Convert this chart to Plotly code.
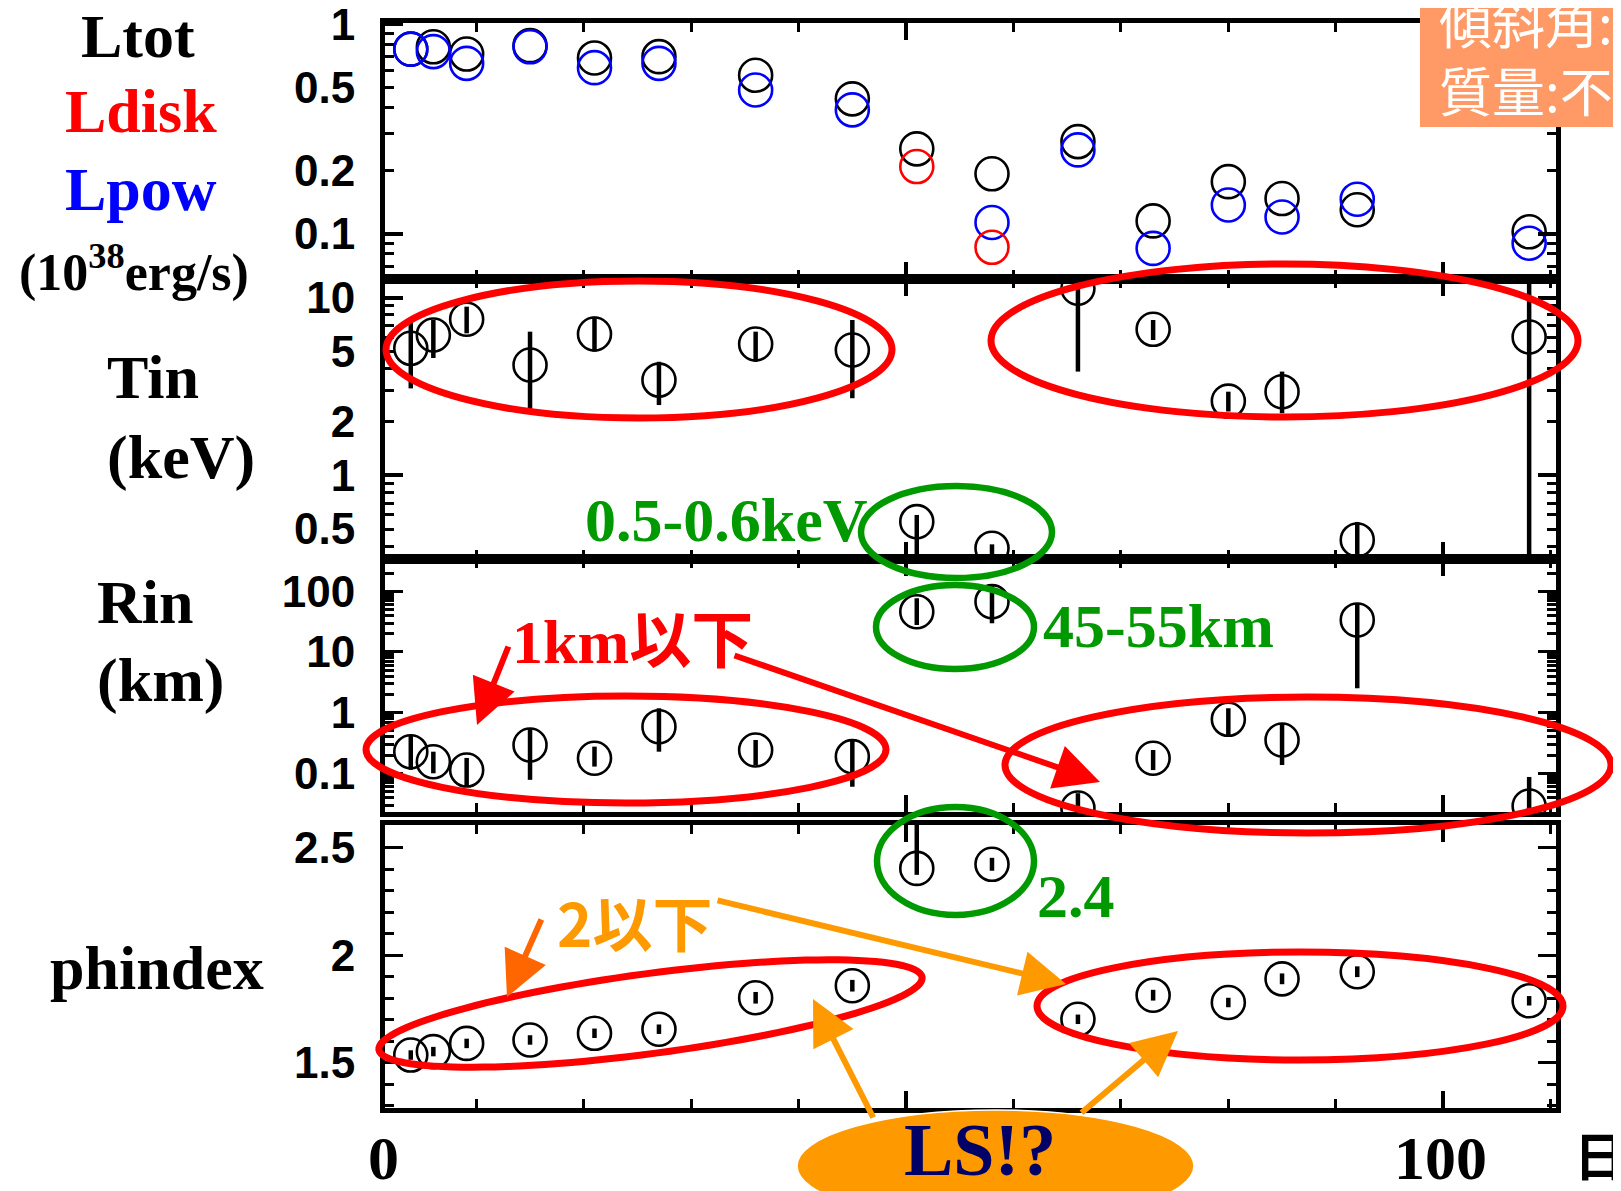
import math
import plotly.graph_objects as go

W, H = 1621, 1191
OFF = 8  # the page body adds an 8px margin; positions below are in screen pixels

# ---------------- data ----------------
days = [3.9, 6.0, 9.1, 15.0, 21.0, 27.0, 36.0, 45.0, 51.0, 58.0, 66.0, 73.0, 80.0, 85.0, 92.0, 108.0]

l_tot = [0.76, 0.78, 0.72, 0.79, 0.69, 0.70, 0.57, 0.44, 0.254, 0.193, 0.275, 0.115, 0.177, 0.147, 0.130, 0.102]
l_pow = [0.76, 0.74, 0.65, 0.78, 0.62, 0.65, 0.485, 0.39, None, 0.113, 0.251, 0.085, 0.137, 0.12, 0.146, 0.090]
l_disk = [None, None, None, None, None, None, None, None, 0.209, 0.086, None, None, None, None, None, None]

tin = [5.19, 6.17, 7.56, 4.18, 6.25, 3.44, 5.49, 5.08, 0.55, 0.39, 11.3, 6.64, 2.62, 2.96, 0.434, 6.01]
tin_hi = [7.33, 7.49, 8.9, 6.44, 7.82, 4.36, 6.44, 7.49, 0.60, 0.41, 20.0, 7.49, 2.96, 3.84, 0.548, 20.0]
tin_lo = [3.09, 4.58, 6.3, 2.34, 4.97, 2.49, 4.36, 2.72, 0.30, 0.33, 3.84, 5.78, 2.29, 2.24, 0.30, 0.30]

rin = [0.227, 0.155, 0.113, 0.293, 0.177, 0.586, 0.242, 0.188, 46.1, 67.5, 0.0268, 0.177, 0.776, 0.354, 33.7, 0.0289]
rin_hi = [0.428, 0.227, 0.179, 0.552, 0.275, 1.18, 0.354, 0.354, 76.7, 127.0, 0.047, 0.242, 1.18, 0.667, 63.4, 0.087]
rin_lo = [0.114, 0.100, 0.060, 0.078, 0.129, 0.227, 0.137, 0.060, 27.8, 29.7, 0.01, 0.113, 0.40, 0.137, 2.52, 0.01]

phindex = [1.536, 1.552, 1.590, 1.606, 1.637, 1.656, 1.802, 1.858, 2.403, 2.422, 1.702, 1.814, 1.780, 1.890, 1.923, 1.788]
ph_plus = [0.022, 0.022, 0.022, 0.022, 0.022, 0.022, 0.027, 0.027, 0.30, 0.03, 0.022, 0.025, 0.022, 0.025, 0.025, 0.022]
ph_minus = [0.022, 0.022, 0.022, 0.022, 0.022, 0.022, 0.027, 0.027, 0.03, 0.03, 0.022, 0.025, 0.022, 0.025, 0.025, 0.022]

y1_ticks = [0.1, 0.2, 0.5, 1]
y1_text = ["0.1", "0.2", "0.5", "1"]
y2_ticks = [0.5, 1, 2, 5, 10]
y2_text = ["0.5", "1", "2", "5", "10"]
y3_ticks = [0.1, 1, 10, 100]
y3_text = ["0.1", "1", "10", "100"]
y4_ticks = [1.5, 2, 2.5]
y4_text = ["1.5", "2", "2.5"]

# ---------------- helpers ----------------
def px(x):
    return (x - OFF) / W


def py(y):
    return 1 - (y - OFF) / H


def errs(v, hi, lo):
    plus = [h - a for a, h in zip(v, hi)]
    minus = [a - l for a, l in zip(v, lo)]
    return plus, minus


X_DOM = [px(385), px(1556)]
P1 = [py(279), py(23)]
P2 = [py(559), py(279)]
P3 = [py(812), py(559)]
P4 = [py(1108), py(825)]

TICKFONT = dict(family="Liberation Sans, Arial, sans-serif", size=44, color="black", weight="bold")

fig = go.Figure()

MK = dict(symbol="circle-open", size=33, line=dict(width=2.6))

# panel 1
fig.add_trace(go.Scatter(x=days, y=l_tot, mode="markers", marker=dict(MK, color="black"),
                         xaxis="x", yaxis="y", showlegend=False))
fig.add_trace(go.Scatter(x=days, y=l_pow, mode="markers", marker=dict(MK, color="#0000FF"),
                         xaxis="x", yaxis="y", showlegend=False))
fig.add_trace(go.Scatter(x=days, y=l_disk, mode="markers", marker=dict(MK, color="#FF0000"),
                         xaxis="x", yaxis="y", showlegend=False))

EB = dict(type="data", symmetric=False, width=0, thickness=4.5, color="black")

p, m = errs(tin, tin_hi, tin_lo)
fig.add_trace(go.Scatter(x=days, y=tin, mode="markers", marker=dict(MK, color="black"),
                         error_y=dict(EB, array=p, arrayminus=m),
                         xaxis="x2", yaxis="y2", showlegend=False))
p, m = errs(rin, rin_hi, rin_lo)
fig.add_trace(go.Scatter(x=days, y=rin, mode="markers", marker=dict(MK, color="black"),
                         error_y=dict(EB, array=p, arrayminus=m),
                         xaxis="x3", yaxis="y3", showlegend=False))
fig.add_trace(go.Scatter(x=days, y=phindex, mode="markers", marker=dict(MK, color="black"),
                         error_y=dict(EB, array=ph_plus, arrayminus=ph_minus),
                         xaxis="x4", yaxis="y4", showlegend=False))
# empty traces to host the overlay axes (long decade ticks)
for ya, xa in (("y5", "x"), ("y6", "x2")):
    fig.add_trace(go.Scatter(x=[None], y=[None], mode="markers", xaxis=xa, yaxis=ya,
                             showlegend=False, hoverinfo="skip"))


def xaxis(anchor, matches=None):
    d = dict(range=[1.5, 110.5], domain=X_DOM, anchor=anchor, showline=True, linewidth=5,
             linecolor="black", mirror="ticks", ticks="inside", tickmode="linear", tick0=0,
             dtick=50, ticklen=17, tickwidth=4, tickcolor="black", showticklabels=False,
             showgrid=False, zeroline=False, automargin=False,
             minor=dict(tickmode="linear", tick0=0, dtick=10, ticks="inside", ticklen=9,
                        tickwidth=3, tickcolor="black", showgrid=False))
    if matches:
        d["matches"] = matches
    return d


def yaxis(dom, anchor, typ, rng, tv, tt, minor_vals, ticklen=9):
    return dict(type=typ, range=rng, domain=dom, anchor=anchor, tickmode="array", tickvals=tv,
                ticktext=tt, ticks="inside", ticklen=ticklen, tickwidth=3, tickcolor="black",
                showline=True, linewidth=5, linecolor="black", mirror="ticks", showgrid=False,
                zeroline=False, tickfont=TICKFONT, ticklabelstandoff=16, automargin=False,
                ticklabeloverflow="allow",
                minor=dict(tickmode="array", tickvals=minor_vals, ticks="inside", ticklen=9,
                           tickwidth=3, tickcolor="black", showgrid=False))


def overlay(over, anchor, rng, tv):
    return dict(type="log", range=rng, overlaying=over, anchor=anchor, side="left",
                tickmode="array", tickvals=tv, ticks="inside", ticklen=18, tickwidth=4,
                tickcolor="black", showticklabels=False, showline=False, mirror="ticks",
                showgrid=False, zeroline=False, automargin=False)


R1 = [-1.2168, 0.0057]
R2 = [-0.4696, 1.105]
R3 = [-1.638, 2.532]
R4 = [1.290, 2.6045]

m1 = [0.07, 0.08, 0.09, 0.3, 0.4, 0.6, 0.7, 0.8, 0.9]
m2 = [0.4, 0.6, 0.7, 0.8, 0.9, 3, 4, 6, 7, 8, 9]
m3 = [k * 10 ** e for e in (-2, -1, 0, 1, 2) for k in range(2, 10)]
m4 = [round(1.3 + 0.1 * i, 2) for i in range(14)]

fig.update_layout(
    template="none",
    width=W, height=H, autosize=False, margin=dict(l=0, r=0, t=0, b=0, pad=0),
    paper_bgcolor="white", plot_bgcolor="white", showlegend=False,
    xaxis=xaxis("y"), xaxis2=xaxis("y2", "x"), xaxis3=xaxis("y3", "x"), xaxis4=xaxis("y4", "x"),
    yaxis=yaxis(P1, "x", "log", R1, y1_ticks, y1_text, m1),
    yaxis2=yaxis(P2, "x2", "log", R2, y2_ticks, y2_text, m2),
    yaxis3=yaxis(P3, "x3", "log", R3, y3_ticks, y3_text, m3, ticklen=18),
    yaxis4=yaxis(P4, "x4", "linear", R4, y4_ticks, y4_text, m4, ticklen=18),
    yaxis5=overlay("y", "x", R1, [0.1, 1]),
    yaxis6=overlay("y2", "x2", R2, [1, 10]),
)

# ---------------- shapes ----------------
shapes = []


def ell(x0, x1, y0, y1, color, width):
    shapes.append(dict(type="circle", xref="paper", yref="paper", x0=px(x0), x1=px(x1),
                       y0=py(y1), y1=py(y0), line=dict(color=color, width=width), layer="above"))


RED, GREEN = "#FF0000", "#009900"
ell(386, 892, 281, 418, RED, 7)
ell(991, 1578, 264, 417, RED, 7)
ell(366, 886, 696, 803, RED, 7)
ell(1005, 1611, 697, 833, RED, 7)
ell(1037, 1563, 952, 1060, RED, 7)
ell(861, 1052, 486, 578, GREEN, 6.5)
ell(876, 1034, 585, 669, GREEN, 6.5)
ell(877, 1034, 807, 915, GREEN, 6.5)

# tilted ellipse (phindex, left group)
cx, cy, a, b, th = 650.5, 1013.5, 274, 40, math.radians(-7.6)
pts = []
for i in range(121):
    t = 2 * math.pi * i / 120
    xx = cx + a * math.cos(th) * math.cos(t) - b * math.sin(th) * math.sin(t)
    yy = cy + a * math.sin(th) * math.cos(t) + b * math.cos(th) * math.sin(t)
    pts.append(f"{px(xx):.5f},{py(yy):.5f}")
shapes.append(dict(type="path", xref="paper", yref="paper", path="M" + " L".join(pts) + " Z",
                   line=dict(color=RED, width=7), layer="above"))

# orange info box
shapes.append(dict(type="rect", xref="paper", yref="paper", x0=px(1420), x1=px(1640), y0=py(127),
                   y1=py(0), fillcolor="#FF9966", line=dict(width=0), layer="above"))
# LS ellipse
shapes.append(dict(type="circle", xref="paper", yref="paper", x0=px(797), x1=px(1194), y0=py(1222),
                   y1=py(1110), fillcolor="#FF9900", line=dict(color="white", width=1.5), layer="above"))
fig.update_layout(shapes=shapes)

# ---------------- annotations ----------------
ann = []


def txt(x, y, s, size, color="black", family="Liberation Serif, Times New Roman, serif",
        weight="bold", xanchor="center"):
    ann.append(dict(x=px(x), y=py(y), xref="paper", yref="paper", text=s, showarrow=False,
                    xanchor=xanchor, yanchor="middle",
                    font=dict(family=family, size=size, color=color, weight=weight)))


def arrow(hx, hy, tx, ty, color, width=6, size=1.5):
    ann.append(dict(x=px(hx), y=py(hy), xref="paper", yref="paper", ax=tx - hx, ay=ty - hy,
                    axref="pixel", ayref="pixel", text="", showarrow=True, arrowhead=2,
                    arrowsize=size, arrowwidth=width, arrowcolor=color, standoff=0))


# left axis titles
txt(138, 36, "Ltot", 62)
txt(141, 111, "Ldisk", 62, color="#FF0000")
txt(141, 189, "Lpow", 62, color="#0000FF")
txt(134, 269, "(10<sup>38</sup>erg/s)", 52)
txt(153, 377, "Tin", 62)
txt(181, 457, "(keV)", 62)
txt(145, 602, "Rin", 62)
txt(160, 680, "(km)", 62)
txt(157, 968, "phindex", 62)

# x labels
txt(383, 1158, "0", 62)
txt(1440, 1158, "100", 62)
txt(1600, 1153, "日", 52, family="Noto Sans CJK JP", weight="bold")

# coloured notes
txt(726, 520, "0.5-0.6keV", 62, color=GREEN)
txt(1158, 626, "45-55km", 62, color=GREEN)
txt(1076, 896, "2.4", 62, color=GREEN)
txt(632, 642, "<b>1km</b>以下", 62, color="#FF0000",
    family="Liberation Serif, Noto Sans CJK JP", weight="bold")
txt(634, 921, "2以下", 60, color="#FF9900", family="Noto Sans CJK JP", weight="bold")

# arrows
arrow(477, 725, 509, 645, "#FF0000")
arrow(1100, 782, 733, 655, "#FF0000")
arrow(507, 997, 542, 918, "#FF6600")
arrow(1066, 984, 716, 900, "#FF9900")
arrow(813, 999, 874, 1119, "#FF9900")
arrow(1178, 1031, 1080, 1114, "#FF9900")

# LS text
txt(980, 1150, "LS!?", 74, color="#000066")

# info box text
txt(1437, 21, "傾斜角:不明", 53, color="white", family="Noto Sans CJK JP", weight="normal", xanchor="left")
txt(1437, 89, "質量:不明", 53, color="white", family="Noto Sans CJK JP", weight="normal", xanchor="left")

fig.update_layout(annotations=ann)

fig.write_html("out.html")
